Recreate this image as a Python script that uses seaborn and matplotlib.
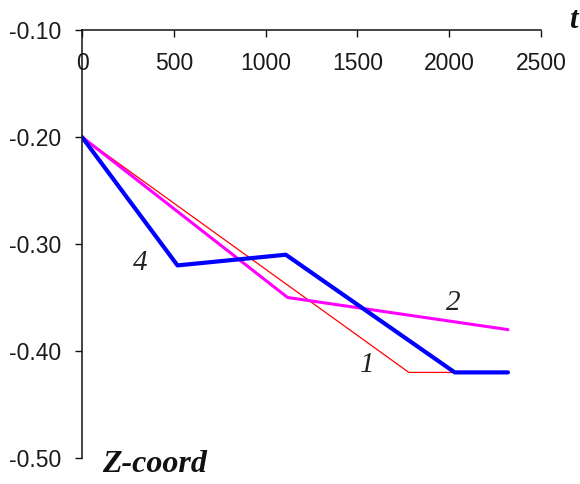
import matplotlib
matplotlib.use("Agg")
import matplotlib.pyplot as plt
import seaborn as sns
import pandas as pd
from matplotlib.ticker import FormatStrFormatter

# Data
t1 = [0, 1780, 2320]
z1 = [-0.20, -0.42, -0.42]
t2 = [0, 1120, 2320]
z2 = [-0.20, -0.35, -0.38]
t4 = [0, 520, 1110, 2030, 2320]
z4 = [-0.20, -0.32, -0.31, -0.42, -0.42]
series_names = ["1", "2", "4"]
colors = ["#FF0000", "#FF00FF", "#0000FF"]
widths = [0.9, 2.2, 3.0]
x_ticks = [0, 500, 1000, 1500, 2000, 2500]
y_ticks = [-0.50, -0.40, -0.30, -0.20, -0.10]

df = pd.concat([
    pd.DataFrame({"t": t1, "z": z1, "series": "1"}),
    pd.DataFrame({"t": t2, "z": z2, "series": "2"}),
    pd.DataFrame({"t": t4, "z": z4, "series": "4"}),
], ignore_index=True)

sns.set_style("white")
plt.rcParams['font.family'] = ['Liberation Sans', 'DejaVu Sans']

fig = plt.figure(figsize=(5.8, 4.84), dpi=100)
ax = fig.add_axes([0.1414, 0.0537, 0.7914, 0.8843])

for name, c, w in zip(series_names, colors, widths):
    sns.lineplot(data=df[df["series"] == name], x="t", y="z", color=c,
                 linewidth=w, ax=ax, legend=False, estimator=None, sort=False)

ax.set_xlim(0, 2500)
ax.set_ylim(-0.50, -0.10)
ax.set_xticks(x_ticks)
ax.set_yticks(y_ticks)
ax.yaxis.set_major_formatter(FormatStrFormatter("%.2f"))
ax.set_xlabel("")
ax.set_ylabel("")

for s in ["right", "top"]:
    ax.spines[s].set_visible(False)
ax.spines["bottom"].set_position(("axes", 1.0))
for s in ["left", "bottom"]:
    ax.spines[s].set_color("#111111")
    ax.spines[s].set_linewidth(1.1)

ax.tick_params(axis="x", direction="out", length=5, width=1, color="#111111",
               labelcolor="#1a1a1a", labelsize=16.5, pad=11, bottom=True,
               labelbottom=True)
ax.tick_params(axis="y", direction="out", length=5, width=1, color="#111111",
               labelcolor="#1a1a1a", labelsize=16.5, pad=10, left=True)

serif = ['Liberation Serif', 'DejaVu Serif']
ax.text(316, -0.318, "4", family=serif, style="italic", fontsize=21,
        color="#222222", ha="center", va="center")
ax.text(2020, -0.355, "2", family=serif, style="italic", fontsize=21,
        color="#222222", ha="center", va="center")
ax.text(1552, -0.413, "1", family=serif, style="italic", fontsize=21,
        color="#222222", ha="center", va="center")
fig.text(573 / 580, 1 - 20 / 484, "t", family=serif, style="italic",
         weight="bold", fontsize=22, color="#111111", ha="center", va="center")
fig.text(155 / 580, 1 - 465 / 484, "Z-coord", family=serif, style="italic",
         weight="bold", fontsize=23, color="#111111", ha="center", va="center")

fig.savefig("out.png", dpi=100)
